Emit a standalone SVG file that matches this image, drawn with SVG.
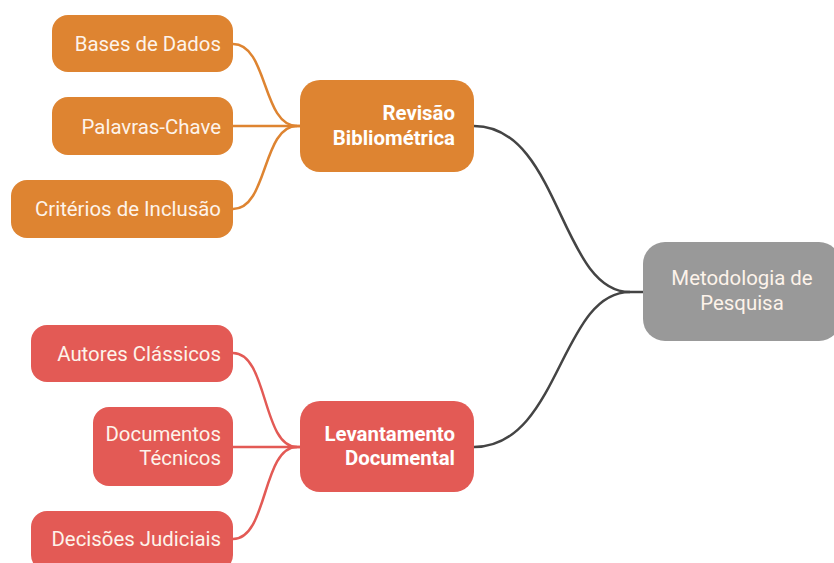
<svg xmlns="http://www.w3.org/2000/svg" width="834" height="563" viewBox="0 0 834 563">
<style>
.t{font-family:Roboto,"Liberation Sans",sans-serif;font-size:20.4px;fill:#fdf3ea}
.b{font-weight:bold;fill:#ffffff}
.o{fill:#de8431}
.r{fill:#e35a55}
.g{fill:#999999}
.co{fill:none;stroke:#de8431;stroke-width:2.5}
.cr{fill:none;stroke:#e35a55;stroke-width:2.5}
.cg{fill:none;stroke:#444444;stroke-width:2.5}
</style>
<rect width="834" height="563" fill="#ffffff"/>
<g id="connectors">
<path class="cg" d="M474,126 C560,126 560,292 630,292 L645,292"/>
<path class="cg" d="M474,447 C560,447 560,292 630,292"/>
<path class="co" d="M233,44 C268,44 262,126 297,126 L302,126"/>
<path class="co" d="M233,126 L302,126"/>
<path class="co" d="M233,209 C268,209 262,126 297,126"/>
<path class="cr" d="M233,353 C268,353 262,447 297,447 L302,447"/>
<path class="cr" d="M233,447 L302,447"/>
<path class="cr" d="M233,539 C268,539 262,447 297,447"/>
</g>
<g id="root">
<rect class="g" x="643" y="242" width="198" height="99" rx="22"/>
<text class="t" x="742" y="285" text-anchor="middle">Metodologia de</text>
<text class="t" x="742" y="310" text-anchor="middle">Pesquisa</text>
</g>
<g id="revisao">
<rect class="o" x="300" y="80" width="174" height="92" rx="20"/>
<text class="t b" x="455" y="120" text-anchor="end">Revisão</text>
<text class="t b" x="455" y="145" text-anchor="end">Bibliométrica</text>
</g>
<g id="bases">
<rect class="o" x="52" y="15" width="181" height="57" rx="16"/>
<text class="t" x="221" y="51" text-anchor="end">Bases de Dados</text>
</g>
<g id="palavras">
<rect class="o" x="52" y="97" width="181" height="58" rx="16"/>
<text class="t" x="221" y="134" text-anchor="end">Palavras-Chave</text>
</g>
<g id="criterios">
<rect class="o" x="11" y="180" width="222" height="58" rx="16"/>
<text class="t" x="221" y="216" text-anchor="end">Critérios de Inclusão</text>
</g>
<g id="levantamento">
<rect class="r" x="300" y="401" width="174" height="91" rx="20"/>
<text class="t b" x="455" y="441" text-anchor="end">Levantamento</text>
<text class="t b" x="455" y="465" text-anchor="end">Documental</text>
</g>
<g id="autores">
<rect class="r" x="31" y="325" width="202" height="57" rx="16"/>
<text class="t" x="221" y="361" text-anchor="end">Autores Clássicos</text>
</g>
<g id="documentos">
<rect class="r" x="93" y="407" width="140" height="79" rx="16"/>
<text class="t" x="221" y="441" text-anchor="end">Documentos</text>
<text class="t" x="221" y="465" text-anchor="end">Técnicos</text>
</g>
<g id="decisoes">
<rect class="r" x="31" y="511" width="202" height="60" rx="16"/>
<text class="t" x="221" y="546" text-anchor="end">Decisões Judiciais</text>
</g>
</svg>
